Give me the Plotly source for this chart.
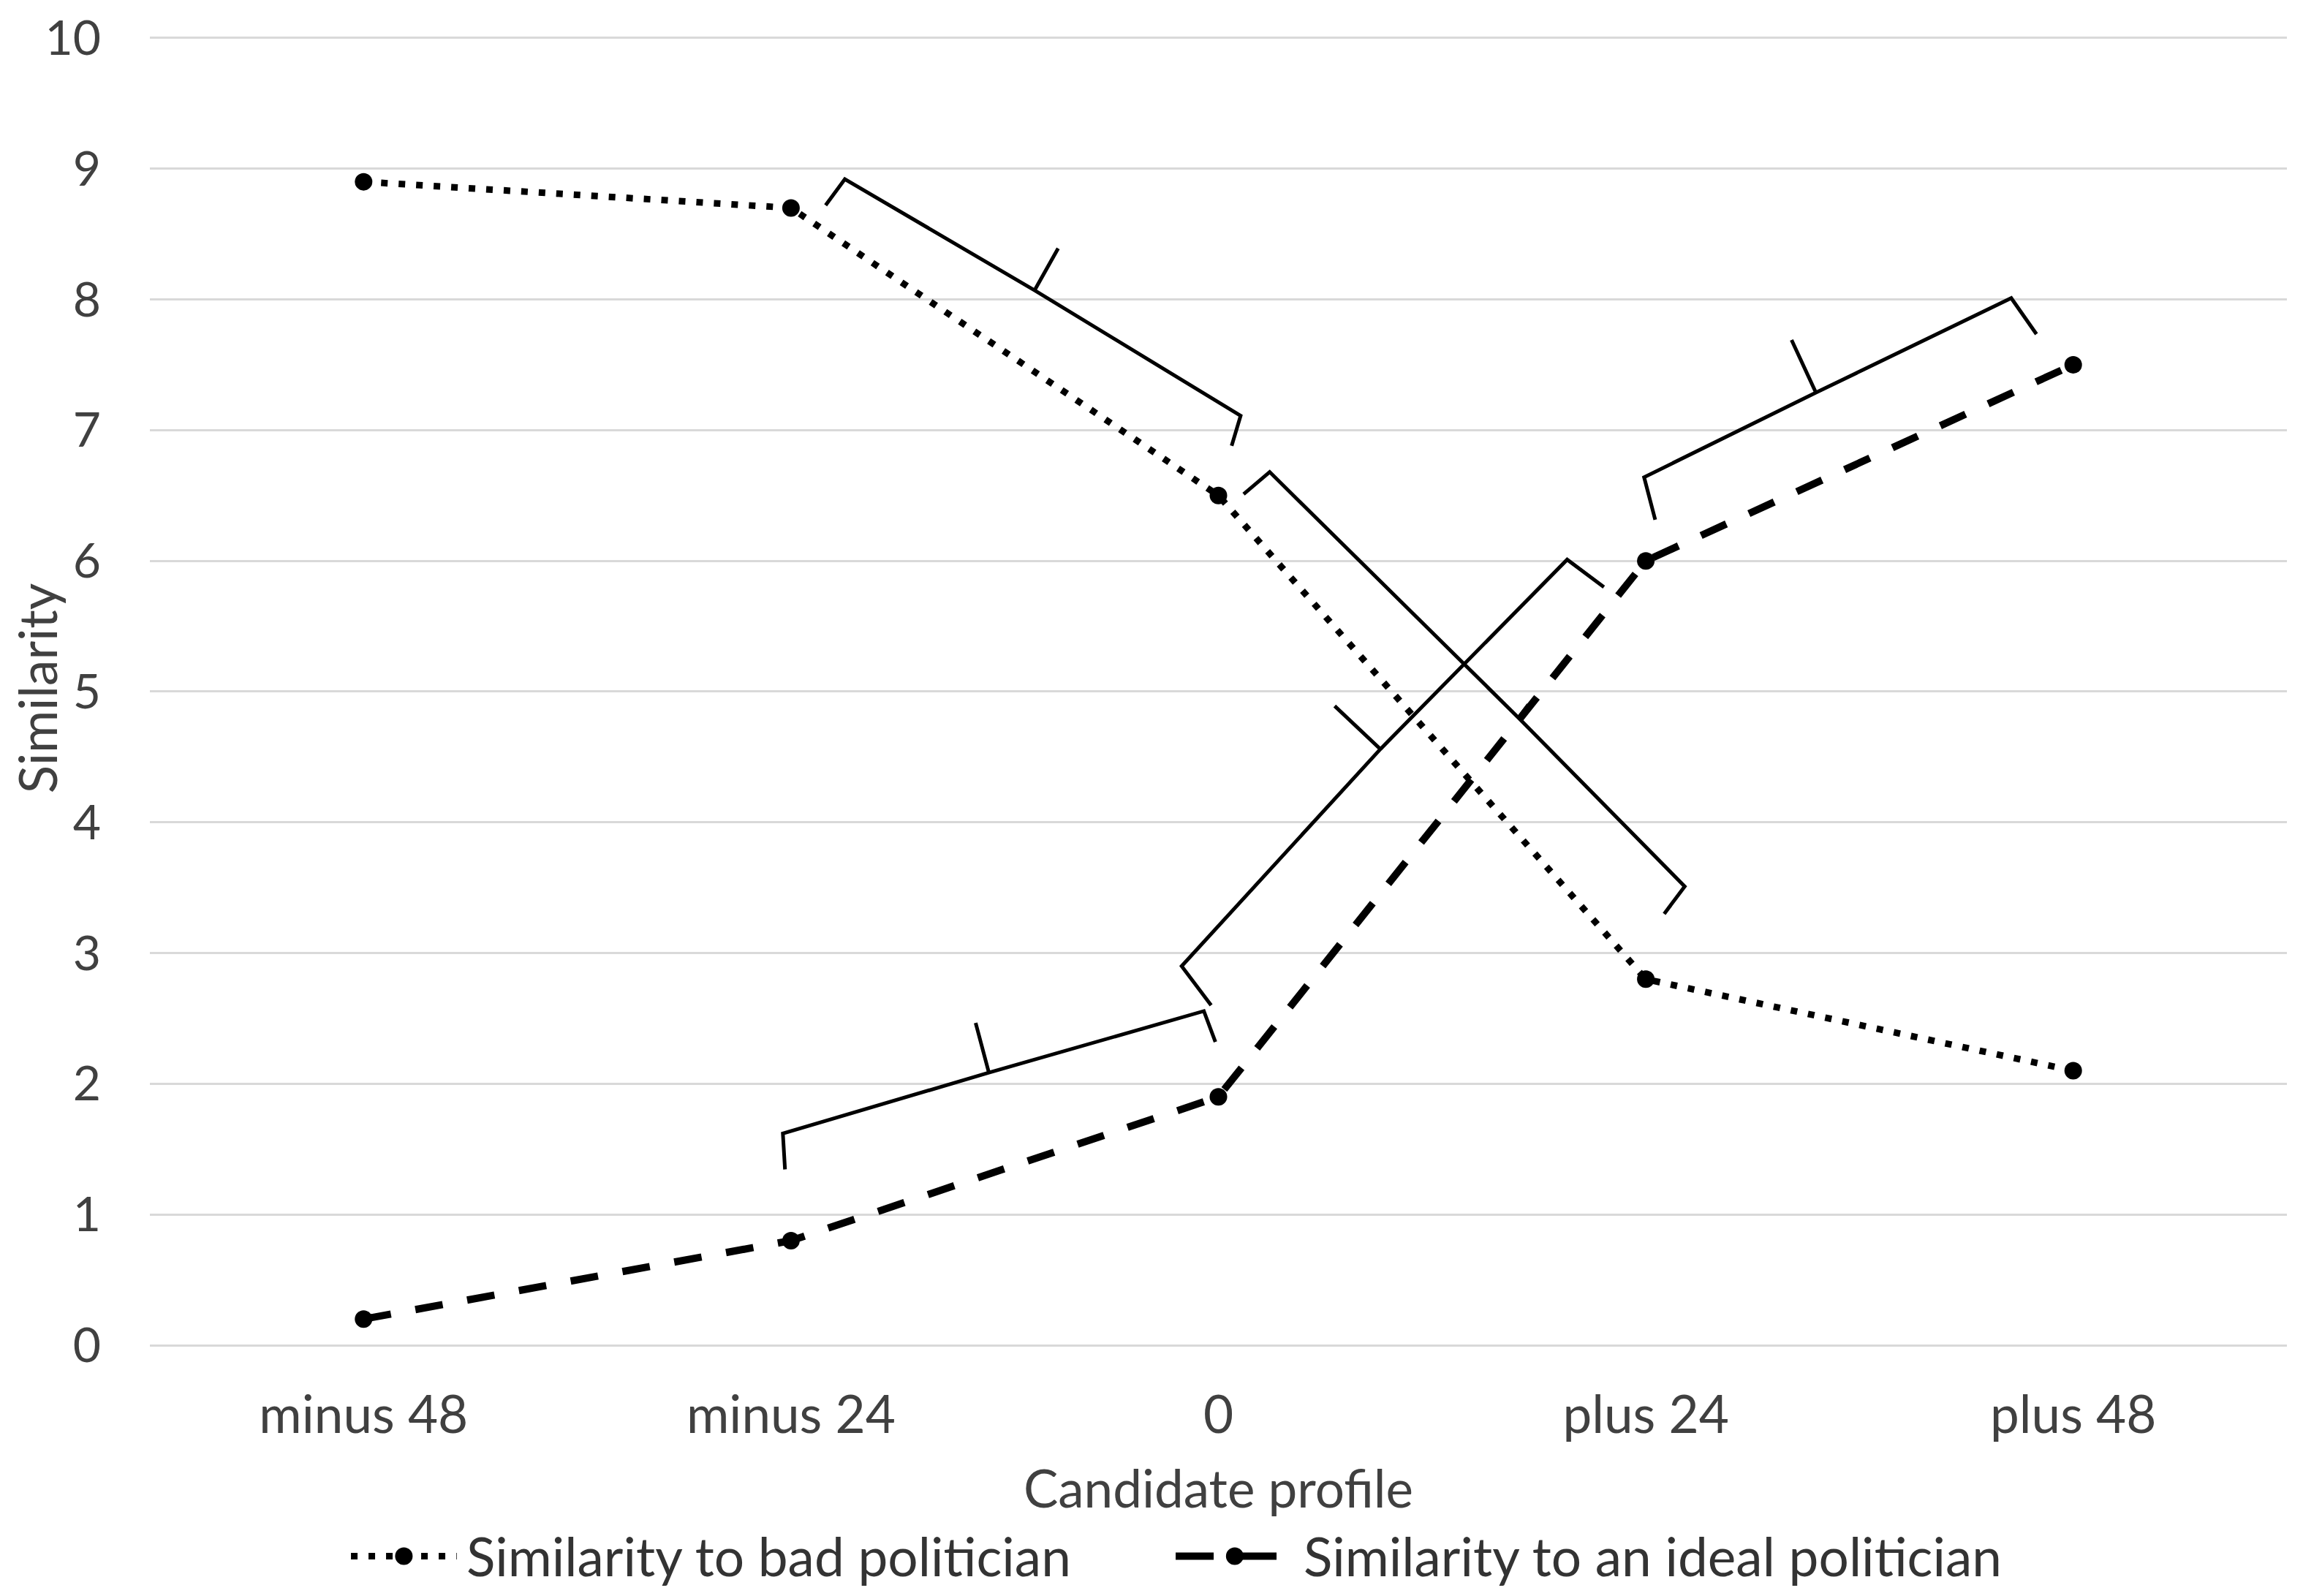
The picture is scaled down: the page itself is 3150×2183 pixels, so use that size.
import plotly.graph_objects as go

# categories and series values
profiles = ["minus 48", "minus 24", "0", "plus 24", "plus 48"]
bad_similarity = [8.9, 8.7, 6.5, 2.8, 2.1]
ideal_similarity = [0.2, 0.8, 1.9, 6.0, 7.5]
y_ticks = list(range(0, 11))
series_names = ["Similarity to bad politician", "Similarity to an ideal politician"]

# hand-drawn braces in data units (category index, similarity):
# tip, corner, middle, middle tick, corner, tip
brace_a = [(1.081, 8.72), (1.126, 8.92), (1.570, 8.07), (1.625, 8.39), (2.052, 7.11), (2.031, 6.88)]
brace_b = [(2.059, 6.51), (2.120, 6.68), (2.702, 4.80), (2.725, 4.90), (3.091, 3.51), (3.043, 3.30)]
brace_c = [(1.983, 2.60), (1.914, 2.90), (2.379, 4.56), (2.272, 4.89), (2.816, 6.01), (2.902, 5.80)]
brace_d = [(0.986, 1.345), (0.981, 1.62), (1.463, 2.085), (1.432, 2.466), (1.966, 2.556), (1.993, 2.32)]
brace_e = [(3.022, 6.315), (2.996, 6.64), (3.398, 7.287), (3.341, 7.69), (3.855, 8.01), (3.914, 7.735)]

FONT = "Lato"
TEXT = "#404040"
FS = 71

styles = [
    dict(width=9, dash="9px,15px", legend_dash="9px,15px"),
    dict(width=10, dash="38px,34px", legend_dash="52px,34px"),
]


def _brace_path(pts):
    """SVG path for a brace: tip-corner-mid-corner-tip plus a tick at the middle."""
    t1, c1, m, tk, c2, t2 = pts
    f = lambda p: f"{p[0]},{p[1]}"
    return f"M{f(t1)} L{f(c1)} L{f(m)} L{f(c2)} L{f(t2)} M{f(m)} L{f(tk)}"


def _add_legend_entry(fig, x0, x1, y, name, style):
    """Excel-like legend sample: long line with the marker in its middle."""
    fig.add_shape(
        type="line", xref="paper", yref="paper", x0=x0, x1=x1, y0=y, y1=y,
        line=dict(color="black", width=style["width"], dash=style["legend_dash"]),
    )
    xm = (x0 + x1) / 2
    fig.add_shape(
        type="circle", xref="paper", yref="paper", xsizemode="pixel", ysizemode="pixel",
        xanchor=xm, yanchor=y, x0=-12, x1=12, y0=-12, y1=12,
        fillcolor="black", line=dict(color="black", width=0),
    )
    fig.add_annotation(
        x=x1 + 0.004, y=y, xref="paper", yref="paper", text=name, showarrow=False,
        xanchor="left", yanchor="middle", font=dict(family=FONT, size=73, color="#333333"),
    )


fig = go.Figure()

for values, name, style in zip([bad_similarity, ideal_similarity], series_names, styles):
    fig.add_trace(
        go.Scatter(
            x=profiles,
            y=values,
            mode="lines+markers",
            name=name,
            line=dict(color="black", width=style["width"], dash=style["dash"]),
            marker=dict(color="black", size=24),
            showlegend=False,
        )
    )

for pts in [brace_a, brace_b, brace_c, brace_d, brace_e]:
    fig.add_shape(
        type="path",
        path=_brace_path(pts),
        xref="x",
        yref="y",
        line=dict(color="black", width=5),
    )

legend_y = -0.1605
_add_legend_entry(fig, 0.0941, 0.1436, legend_y, series_names[0], styles[0])
_add_legend_entry(fig, 0.4800, 0.5353, legend_y, series_names[1], styles[1])

fig.update_layout(
    width=3150,
    height=2183,
    margin=dict(l=197, r=30, t=35, b=351, autoexpand=False),
    plot_bgcolor="white",
    paper_bgcolor="white",
    font=dict(family=FONT, size=FS, color=TEXT),
    showlegend=False,
)

fig.update_xaxes(
    type="category",
    categoryorder="array",
    categoryarray=profiles,
    range=[-0.5, 4.5],
    automargin=False,
    showgrid=False,
    showline=False,
    zeroline=False,
    ticks="",
    ticklabelstandoff=48,
    tickfont=dict(family=FONT, size=FS, color=TEXT),
    title=dict(text="Candidate profile", standoff=38, font=dict(family=FONT, size=FS, color=TEXT)),
)
fig.update_yaxes(
    range=[0, 10.05],
    tickvals=y_ticks,
    automargin=True,
    showgrid=True,
    gridcolor="#d9d9d9",
    gridwidth=3,
    zeroline=True,
    zerolinecolor="#d9d9d9",
    zerolinewidth=3,
    showline=False,
    ticks="",
    ticklabelstandoff=66,
    ticklabeloverflow="allow",
    tickfont=dict(family=FONT, size=66, color=TEXT),
    title=dict(text="Similarity", standoff=12, font=dict(family=FONT, size=FS, color=TEXT)),
)

fig.write_html("out.html")
